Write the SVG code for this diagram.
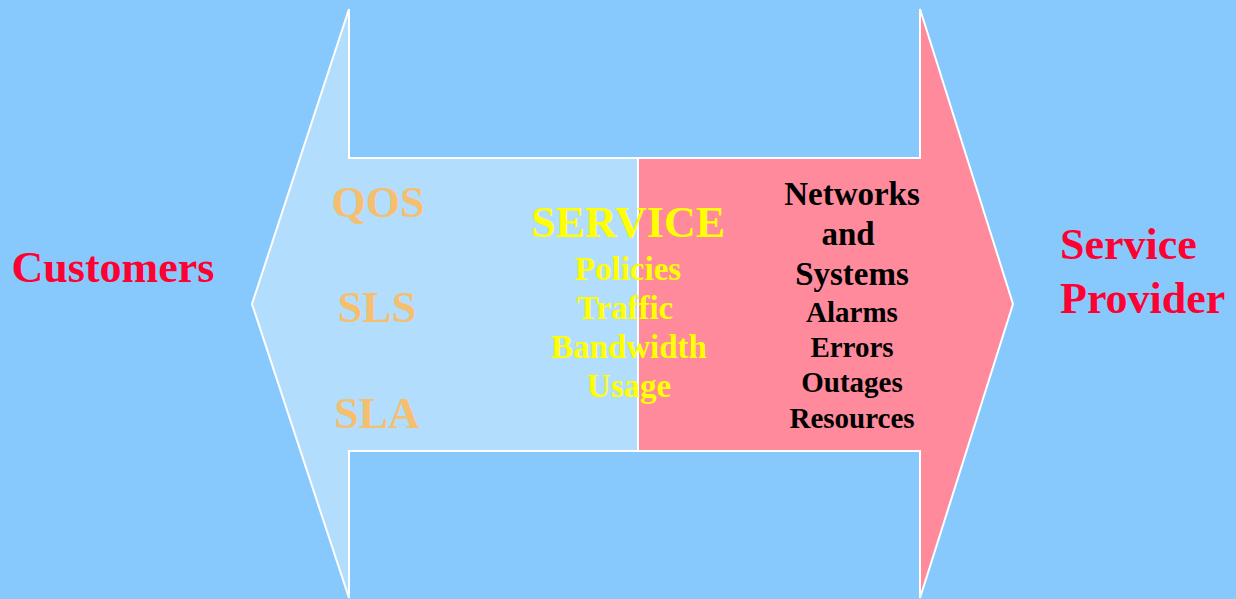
<svg xmlns="http://www.w3.org/2000/svg" width="1236" height="599" viewBox="0 0 1236 599">
<style>
text{font-family:"Liberation Serif","Times New Roman",serif;font-weight:bold;text-anchor:middle}
.shape{stroke:#ffffff;stroke-width:2;stroke-linejoin:miter}
.red{fill:#ff0033;font-size:44px}
.orange{fill:#f5bf6f;font-size:44px}
.yellow{fill:#ffff00;font-size:33px}
.black{fill:#000000}
</style>
<rect x="0" y="0" width="1236" height="599" fill="#88c9fd"/>
<g id="left-arrow">
<polygon class="shape" fill="#b3ddfd" points="349,9 252,304 349,598 349,451 638,451 638,158 349,158"/>
</g>
<g id="right-arrow">
<polygon class="shape" fill="#ff8a9c" points="638,158 920,158 920,9 1013,304 920,598 920,451 638,451"/>
</g>
<g id="customers">
<text class="red" x="113" y="282">Customers</text>
</g>
<g id="service-provider">
<text class="red" x="1060" y="259" style="text-anchor:start">Service</text>
<text class="red" x="1060" y="313" style="text-anchor:start">Provider</text>
</g>
<g id="customer-terms">
<text class="orange" x="378" y="217">QOS</text>
<text class="orange" x="377" y="322">SLS</text>
<text class="orange" x="377" y="428">SLA</text>
</g>
<g id="service">
<text x="628" y="237" style="fill:#ffff00;font-size:44px">SERVICE</text>
<text class="yellow" x="628" y="280">Policies</text>
<text class="yellow" x="625" y="319">Traffic</text>
<text class="yellow" x="629" y="358">Bandwidth</text>
<text class="yellow" x="629" y="397">Usage</text>
</g>
<g id="provider-terms">
<text class="black" x="852" y="205" font-size="33">Networks</text>
<text class="black" x="848" y="245" font-size="33">and</text>
<text class="black" x="852" y="285" font-size="33">Systems</text>
<text class="black" x="852" y="322" font-size="29">Alarms</text>
<text class="black" x="852" y="357" font-size="29">Errors</text>
<text class="black" x="852" y="392" font-size="29">Outages</text>
<text class="black" x="852" y="428" font-size="29">Resources</text>
</g>
<g id="connectors"></g>
</svg>
